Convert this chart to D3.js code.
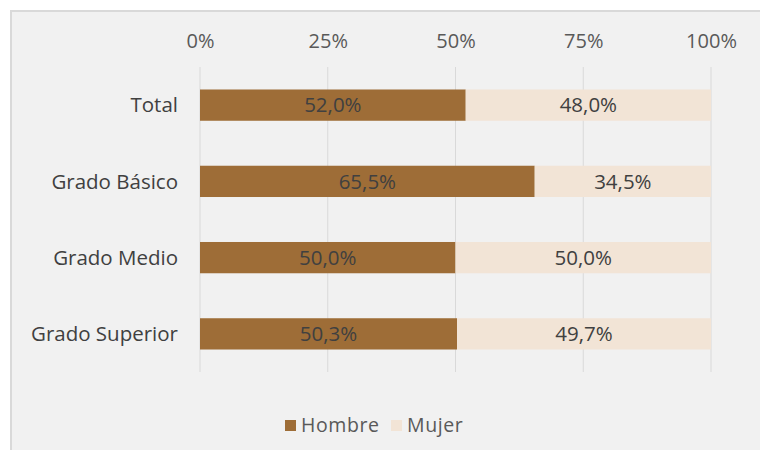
<!DOCTYPE html>
<html><head><meta charset="utf-8">
<script src="https://cdn.jsdelivr.net/npm/d3@7"></script>
<style>
html,body{margin:0;padding:0;background:#fff;}
svg{display:block;}
text{font-family:"Open Sans","Noto Sans",sans-serif;}
</style></head>
<body>
<svg id="c" width="760" height="450"></svg>
<script>
const categories = ["Total", "Grado Básico", "Grado Medio", "Grado Superior"];
const hombre = [52.0, 65.5, 50.0, 50.3];
const mujer = [48.0, 34.5, 50.0, 49.7];
const seriesNames = ["Hombre", "Mujer"];
const seriesColors = ["#9e6d37", "#f2e4d6"];
const tickValues = [0, 25, 50, 75, 100];

const svg = d3.select("#c");
svg.append("rect").attr("x", 11).attr("y", 11).attr("width", 760).attr("height", 460)
  .attr("fill", "#f1f1f1").attr("stroke", "#d9d9d9").attr("stroke-width", 2);

const x = d3.scaleLinear().domain([0, 100]).range([200, 711]);
const y = d3.scaleBand().domain(categories).range([67, 372]).paddingInner(0.59).paddingOuter(0.295);

// gridlines
svg.append("g").selectAll("line").data(tickValues).join("line")
  .attr("x1", d => x(d)).attr("x2", d => x(d)).attr("y1", 67).attr("y2", 372)
  .attr("stroke", "#d9d9d9").attr("stroke-width", 1);

// top axis
const axis = d3.axisTop(x).tickValues(tickValues).tickFormat(d => d + "%").tickSize(0).tickPadding(0);
const ag = svg.append("g").attr("transform", "translate(0,48)").call(axis);
ag.select(".domain").remove();
ag.selectAll("text").attr("font-size", 20).attr("fill", "#595959")
  .attr("font-family", "'Open Sans','Noto Sans',sans-serif");

// category labels
svg.append("g").selectAll("text").data(categories).join("text")
  .attr("x", 178).attr("y", d => y(d) + y.bandwidth() / 2).attr("dy", "0.35em")
  .attr("text-anchor", "end").attr("font-size", 20.5).attr("fill", "#404040").text(d => d);

const rows = categories.map((c, i) => ({cat: c, vals: [hombre[i], mujer[i]]}));
const fmt = v => v.toFixed(1).replace(".", ",") + "%";

rows.forEach(r => {
  let acc = 0;
  r.vals.forEach((v, si) => {
    const x0 = x(acc), x1 = x(acc + v);
    svg.append("rect").attr("x", x0).attr("y", y(r.cat)).attr("width", x1 - x0)
      .attr("height", y.bandwidth()).attr("fill", seriesColors[si]);
    svg.append("text").attr("x", (x0 + x1) / 2).attr("y", y(r.cat) + y.bandwidth() / 2)
      .attr("dy", "0.35em").attr("text-anchor", "middle").attr("font-size", 20.5)
      .attr("fill", "#404040").text(fmt(v));
    acc += v;
  });
});

// legend
const legendX = [285, 391];
seriesNames.forEach((n, i) => {
  svg.append("rect").attr("x", legendX[i]).attr("y", 420).attr("width", 11).attr("height", 11)
    .attr("fill", seriesColors[i]);
  svg.append("text").attr("x", legendX[i] + 16).attr("y", 425.5).attr("dy", "0.35em")
    .attr("font-size", 19.5).attr("letter-spacing", "0.6px").attr("fill", "#595959").text(n);
});
</script>
</body></html>
